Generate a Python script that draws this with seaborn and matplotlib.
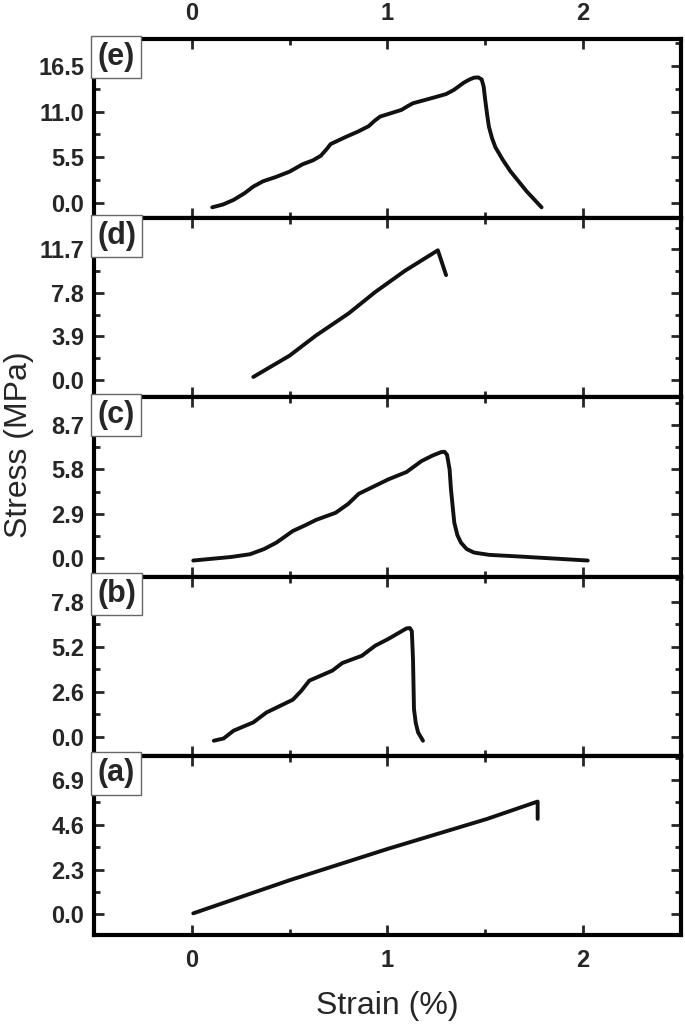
import matplotlib
matplotlib.use("Agg")
import matplotlib.pyplot as plt
from matplotlib.ticker import AutoMinorLocator, FixedLocator
import seaborn as sns
import pandas as pd

# stress-strain curves, one pair of lists per panel
strain_e = [0.105, 0.16, 0.214, 0.27, 0.315, 0.365, 0.43, 0.50, 0.567, 0.62, 0.66, 0.69, 0.71,
            0.786, 0.85, 0.904, 0.935, 0.963, 1.072, 1.10, 1.131, 1.24, 1.30, 1.34, 1.39, 1.42,
            1.443, 1.465, 1.482, 1.492, 1.50, 1.51, 1.519, 1.535, 1.552, 1.59, 1.628, 1.712, 1.788]
stress_e = [-0.49, -0.15, 0.4, 1.2, 2.0, 2.64, 3.15, 3.79, 4.68, 5.15, 5.7, 6.5, 7.1,
            7.94, 8.6, 9.24, 9.9, 10.4, 11.2, 11.6, 12.0, 12.7, 13.1, 13.6, 14.46, 14.85,
            15.07, 15.1, 14.85, 14.0, 12.4, 10.6, 9.17, 7.8, 6.72, 5.2, 3.86, 1.42, -0.49]

strain_d = [0.315, 0.50, 0.635, 0.803, 0.938, 1.089, 1.258, 1.30]
stress_d = [0.24, 2.15, 3.96, 5.96, 7.87, 9.77, 11.62, 9.39]

strain_c = [0.008, 0.20, 0.298, 0.37, 0.433, 0.517, 0.58, 0.635, 0.736, 0.80, 0.854, 1.005,
            1.098, 1.174, 1.23, 1.275, 1.292, 1.305, 1.318, 1.325, 1.342, 1.358, 1.376, 1.405,
            1.443, 1.52, 1.678, 2.024]
stress_c = [-0.15, 0.08, 0.26, 0.6, 1.02, 1.78, 2.15, 2.5, 2.97, 3.55, 4.21, 5.15,
            5.63, 6.34, 6.7, 6.93, 6.95, 6.75, 5.8, 4.5, 2.32, 1.5, 1.02, 0.6,
            0.37, 0.22, 0.11, -0.15]

strain_b = [0.113, 0.163, 0.214, 0.315, 0.382, 0.517, 0.56, 0.601, 0.719, 0.77, 0.87, 0.938,
            1.005, 1.098, 1.115, 1.125, 1.131, 1.136, 1.145, 1.157, 1.182]
stress_b = [-0.23, -0.1, 0.35, 0.83, 1.4, 2.14, 2.65, 3.24, 3.82, 4.26, 4.68, 5.26,
            5.65, 6.26, 6.28, 6.1, 4.49, 1.6, 0.8, 0.25, -0.23]

strain_a = [0.008, 0.5, 1.005, 1.51, 1.768, 1.768]
stress_a = [0.05, 1.75, 3.37, 4.9, 5.79, 4.9]

panel_labels = ["(e)", "(d)", "(c)", "(b)", "(a)"]
yticks = [[0.0, 5.5, 11.0, 16.5], [0.0, 3.9, 7.8, 11.7], [0.0, 2.9, 5.8, 8.7],
          [0.0, 2.6, 5.2, 7.8], [0.0, 2.3, 4.6, 6.9]]
ylims = [(-1.8, 19.7), (-1.6, 14.5), (-1.2, 10.5), (-1.1, 9.25), (-1.06, 8.14)]
xticks = [0, 1, 2]

curves = [(strain_e, stress_e), (strain_d, stress_d), (strain_c, stress_c),
          (strain_b, stress_b), (strain_a, stress_a)]

sns.set_style("ticks")
plt.rcParams["font.family"] = ["Liberation Sans", "DejaVu Sans"]

fig, axes = plt.subplots(5, 1, figsize=(6.85, 10.28), dpi=100, sharex=True,
                         gridspec_kw={"hspace": 0})
fig.subplots_adjust(left=0.137, right=0.994, top=0.962, bottom=0.0905)

for i, ax in enumerate(axes):
    x, y = curves[i]
    df = pd.DataFrame({"strain": x, "stress": y})
    sns.lineplot(data=df, x="strain", y="stress", sort=False, estimator=None,
                 color="#111111", lw=2.8, ax=ax)
    ax.set_xlim(-0.5, 2.5)
    ax.set_ylim(*ylims[i])
    ax.set_xticks(xticks)
    ax.xaxis.set_minor_locator(AutoMinorLocator(2))
    ax.yaxis.set_major_locator(FixedLocator(yticks[i]))
    ax.yaxis.set_minor_locator(AutoMinorLocator(2))
    ax.set_yticklabels([f"{v:.1f}" for v in yticks[i]])
    ax.set_xlabel("")
    ax.set_ylabel("")
    for s in ax.spines.values():
        s.set_linewidth(3)
        s.set_color("black")
    ax.tick_params(which="both", direction="in", top=True, right=True, width=2,
                   labelsize=17, pad=7)
    ax.tick_params(axis="x", pad=10)
    ax.tick_params(which="major", length=7)
    ax.tick_params(which="minor", length=4)
    ax.tick_params(axis="x", labelbottom=(i == 4), labeltop=(i == 0))
    for lab in ax.get_yticklabels() + ax.get_xticklabels():
        lab.set_fontweight("bold")
    ax.text(0.006, 0.985, panel_labels[i], transform=ax.transAxes, ha="left", va="top",
            fontsize=22, fontweight="bold", zorder=10,
            bbox=dict(boxstyle="square,pad=0.2", fc="white", ec="#666666", lw=1))

fig.text(0.028, 0.567, "Stress (MPa)", rotation=90, ha="center", va="center", fontsize=23)
fig.text(0.566, 0.021, "Strain (%)", ha="center", va="center", fontsize=23)

plt.savefig("out.png", dpi=100)
plt.close()
